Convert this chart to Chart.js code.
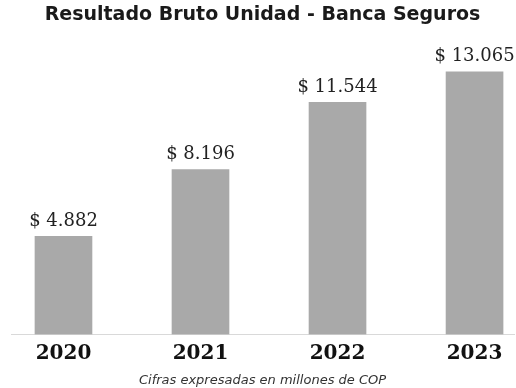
<!DOCTYPE html>
<html>
<head>
<meta charset="utf-8">
<script src="https://cdn.jsdelivr.net/npm/chart.js@4/dist/chart.umd.min.js"></script>
<style>
  html, body { margin: 0; padding: 0; background: #fff; }
  #wrap { width: 516px; height: 388px; }
</style>
</head>
<body>
<div id="wrap"><canvas id="resultadoBruto"></canvas></div>
<script>
// Resultado bruto por año (millones de COP)
const years = [2020, 2021, 2022, 2023];
const resultado = [4882, 8196, 11544, 13065];

// miles con punto, como en el original: 13065 -> "13.065"
const formatCop = (v) => String(v).replace(/\B(?=(\d{3})+(?!\d))/g, ".");

// etiquetas "$ x.xxx" encima de cada barra
const barLabels = {
  id: "barLabels",
  afterDatasetsDraw(chart) {
    const ctx = chart.ctx;
    const meta = chart.getDatasetMeta(0);
    ctx.save();
    ctx.font = "18px 'DejaVu Serif'";
    ctx.fillStyle = "#222";
    ctx.textAlign = "center";
    ctx.textBaseline = "bottom";
    meta.data.forEach((bar, i) => {
      ctx.fillText("$ " + formatCop(resultado[i]), bar.x, bar.y - 6);
    });
    ctx.restore();
  },
};

const ctx = document.getElementById("resultadoBruto").getContext("2d");
new Chart(ctx, {
  type: "bar",
  data: {
    datasets: [
      {
        data: years.map((y, i) => ({ x: y, y: resultado[i] })),
        backgroundColor: "#a9a9a9",
        borderWidth: 0,
        barThickness: 57,
      },
    ],
  },
  options: {
    responsive: true,
    maintainAspectRatio: false,
    animation: false,
    layout: { padding: { left: 11, right: 2, top: 0, bottom: 0 } },
    plugins: {
      legend: { display: false },
      tooltip: { enabled: false },
      title: {
        display: true,
        text: "Resultado Bruto Unidad - Banca Seguros",
        color: "#1a1a1a",
        font: { family: "'DejaVu Sans'", size: 19, weight: "bold", lineHeight: 1.2 },
        padding: { top: 4, bottom: 6 },
      },
    },
    scales: {
      x: {
        type: "linear",
        offset: false,
        min: 2019.617,
        max: 2023.288,
        afterBuildTicks: (scale) => {
          scale.ticks = years.map((v) => ({ value: v }));
        },
        grid: { display: false, drawTicks: false },
        border: { display: true, color: "#d9d9d9", width: 1 },
        ticks: {
          autoSkip: false,
          padding: 7,
          color: "#111",
          font: { family: "'DejaVu Serif'", size: 20, weight: "bold", lineHeight: 1.2 },
          callback: (value) => String(value),
        },
        title: {
          display: true,
          text: "Cifras expresadas en millones de COP",
          color: "#333",
          font: { family: "'DejaVu Sans'", size: 13, style: "italic", lineHeight: 1.2 },
          padding: { top: 0, bottom: 0 },
        },
      },
      y: {
        display: false,
        min: 0,
        max: 15000,
      },
    },
  },
  plugins: [barLabels],
});
</script>
</body>
</html>
